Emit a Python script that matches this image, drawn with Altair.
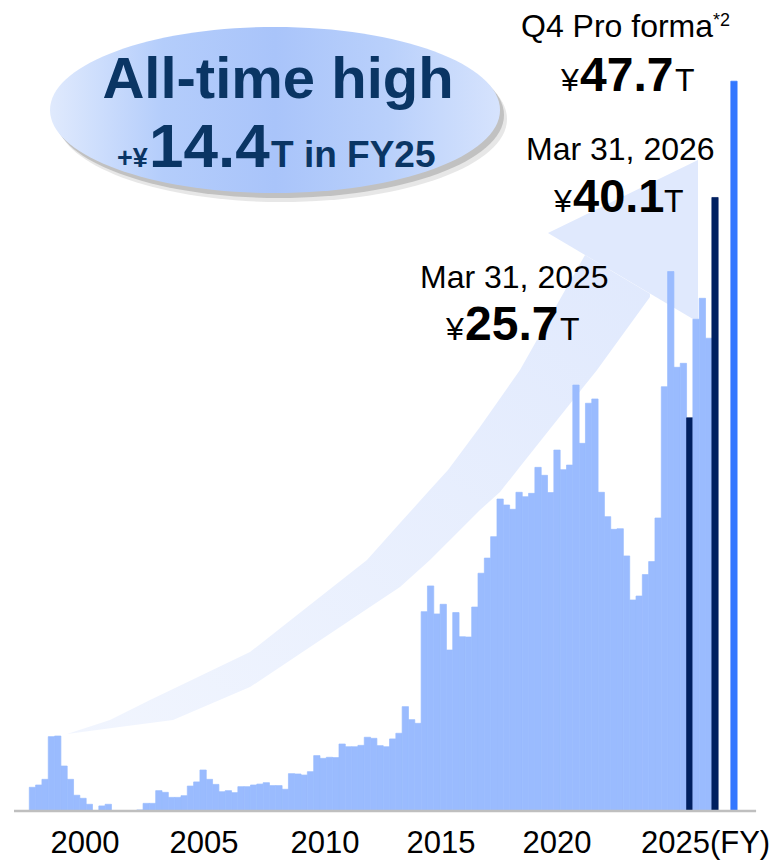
import altair as alt
import pandas as pd

# ---------------- data ----------------
# quarterly values (¥ trillion), FY1998 Q4 (index 0) ... FY2025 Q4 (index 108)
quarter_values = [
    1.55, 1.70, 2.07, 4.86, 4.90, 2.94, 2.07, 1.03, 0.83, 0.44,
    0.03, 0.33, 0.44, 0.02, 0.02, 0.02, 0.03, 0.07, 0.50, 0.50,
    1.33, 1.22, 0.89, 0.89, 1.00, 1.63, 1.90, 2.68, 2.07, 1.74,
    1.26, 1.33, 1.20, 1.59, 1.59, 1.70, 1.76, 1.85, 1.66, 1.66,
    1.42, 2.44, 2.42, 2.35, 2.57, 3.62, 3.44, 3.51, 3.49, 4.38,
    4.20, 4.20, 4.29, 4.82, 4.75, 4.27, 4.20, 4.71, 5.08, 6.82,
    5.97, 5.73, 13.03, 14.71, 12.88, 13.51, 10.52, 12.97, 11.39, 11.37,
    13.33, 15.54, 16.53, 17.93, 20.39, 20.00, 19.72, 20.83, 20.54, 20.76,
    22.46, 21.94, 20.81, 23.59, 22.31, 22.61, 27.84, 24.03, 26.65, 26.93,
    20.83, 19.24, 18.41, 18.45, 16.67, 13.79, 14.05, 15.45, 16.30, 19.15,
    27.73, 35.26, 29.00, 29.26, 25.70, 32.14, 33.51, 30.90, 40.10,
]
fiscal_year_end_index = [104, 108]          # Mar 31, 2025 and Mar 31, 2026
pro_forma_index = [111]
pro_forma_value = [47.7]

axis_labels = ["2000", "2005", "2010", "2015", "2020", "2025(FY)"]
axis_label_pos = [8.81, 27.64, 46.79, 65.14, 83.50, 96.78]   # quarter index
axis_label_align = ["center", "center", "center", "center", "center", "left"]

# decorative growth arrow, in chart units (quarter index, ¥T)
arrow_x = [5.97, 12.77, 19.10, 22.74, 34.92, 42.83, 53.43, 58.66, 63.40, 66.25,
           71.31, 74.48, 77.64, 82.07, 87.93, 89.83, 93.47, 98.21]
arrow_top = [5.03, 5.95, 7.25, 7.97, 10.39, 12.96, 16.41, 18.82, 20.99, 22.29,
             25.10, 26.96, 28.82, 32.06, 36.34, 35.86, 34.97, 33.80]
arrow_bottom = [5.03, 5.41, 5.75, 5.95, 8.10, 10.28, 13.20, 14.64, 16.41, 17.58,
                19.67, 20.85, 22.50, 24.80, 27.84, 28.82, 30.90, 33.59]
head_x = [82.07, 105.81]
head_top = [37.78, 42.55]
head_bottom = [37.78, 31.96]

# ---------------- tables ----------------
kinds = []
for i in range(len(quarter_values)):
    kinds.append("fyend" if i in fiscal_year_end_index else "quarter")
bars = pd.DataFrame({
    "q": list(range(len(quarter_values))) + pro_forma_index,
    "value": quarter_values + pro_forma_value,
    "kind": kinds + ["proforma"] * len(pro_forma_index),
})
bars["q2"] = bars["q"] + 1
bars["base"] = 0.0

shaft = pd.DataFrame({"x": arrow_x, "top": arrow_top, "bottom": arrow_bottom})
head = pd.DataFrame({"x": head_x, "top": head_top, "bottom": head_bottom})
labels = pd.DataFrame({"label": axis_labels, "pos": axis_label_pos,
                       "align": axis_label_align, "y": [-2.75] * len(axis_labels)})
baseline = pd.DataFrame({"x": [-2.42], "x2": [115.0], "y": [0.0]})

W, H = 771, 861
xs = alt.Scale(domain=[-4.636, 117.36], nice=False, zero=False)
ys = alt.Scale(domain=[-3.268, 53.007], nice=False, zero=False)

FONT = "Liberation Sans"
NAVY = "#0a3564"

arrow_grad = alt.Gradient(
    gradient="linear",
    stops=[alt.GradientStop(color="#f1f5fe", offset=0),
           alt.GradientStop(color="#e0e9fd", offset=1)],
    x1=0, x2=1, y1=1, y2=0)

shaft_layer = alt.Chart(shaft).mark_area(orient="vertical", color=arrow_grad).encode(
    x=alt.X("x:Q", scale=xs, axis=None),
    y=alt.Y("top:Q", scale=ys, axis=None),
    y2="bottom:Q")
head_layer = alt.Chart(head).mark_area(orient="vertical", color="#e0e9fd").encode(
    x=alt.X("x:Q", scale=xs, axis=None),
    y=alt.Y("top:Q", scale=ys, axis=None),
    y2="bottom:Q")

kind_scale = alt.Scale(domain=["quarter", "fyend", "proforma"],
                       range=["#9abbfe", "#002060", "#3377ff"])
bar_layer = alt.Chart(bars).mark_rect(strokeWidth=0.7).encode(
    x=alt.X("q:Q", scale=xs, axis=None),
    x2="q2:Q",
    y=alt.Y("value:Q", scale=ys, axis=None),
    y2="base:Q",
    color=alt.Color("kind:N", legend=None, scale=kind_scale),
    stroke=alt.Stroke("kind:N", legend=None, scale=kind_scale))

rule_layer = alt.Chart(baseline).mark_rule(color="#bfbfbf", strokeWidth=2.5).encode(
    x=alt.X("x:Q", scale=xs, axis=None), x2="x2:Q",
    y=alt.Y("y:Q", scale=ys, axis=None))

label_layers = []
for al in ["center", "left"]:
    label_layers.append(
        alt.Chart(labels).transform_filter(alt.datum.align == al).mark_text(
            font=FONT, fontSize=31, color="#000000", align=al, baseline="alphabetic"
        ).encode(x=alt.X("pos:Q", scale=xs, axis=None),
                 y=alt.Y("y:Q", scale=ys, axis=None),
                 text="label:N"))

# ellipse callout
k = 0.369
c = 0.5523
ellipse_path = (f"M -1 0 C -1 {-c*k:.4f} {-c:.4f} {-k} 0 {-k} "
                f"C {c:.4f} {-k} 1 {-c*k:.4f} 1 0 "
                f"C 1 {c*k:.4f} {c:.4f} {k} 0 {k} "
                f"C {-c:.4f} {k} -1 {c*k:.4f} -1 0 Z")
one = pd.DataFrame({"d": [0]})
ell_size = (2 * 225) ** 2

def ell(px, py, fill, opacity=1.0):
    return alt.Chart(one).mark_point(shape=ellipse_path, size=ell_size, filled=True,
                                     fill=fill, strokeWidth=0, opacity=opacity).encode(
        x=alt.value(px), y=alt.value(py))

ell_grad = alt.Gradient(
    gradient="linear",
    stops=[alt.GradientStop(color="#e0eafd", offset=0),
           alt.GradientStop(color="#b4cdfb", offset=0.25),
           alt.GradientStop(color="#a9c4fa", offset=0.5),
           alt.GradientStop(color="#b9d0fb", offset=0.75),
           alt.GradientStop(color="#d6e3fd", offset=1)],
    x1=0, x2=1, y1=0, y2=0)

ellipse_layers = [
    ell(282, 119, "#a0a0a0", 0.25),
    ell(279, 115, "#8a8a8a", 0.4),
    ell(275, 110, ell_grad),
]

def txt(t, px, py, size, weight="normal", align="left", color="#000000"):
    return alt.Chart(pd.DataFrame({"t": [t]})).mark_text(
        font=FONT, fontSize=size, fontWeight=weight, align=align,
        baseline="alphabetic", color=color).encode(
        x=alt.value(px), y=alt.value(py), text="t:N")

texts = [
    txt("All-time high", 278, 98, 58, "bold", "center", NAVY),
    txt("+¥", 117, 167, 27, "bold", "left", NAVY),
    txt("14.4", 149, 167, 62, "bold", "left", NAVY),
    txt("T in FY25", 271, 167, 37, "bold", "left", NAVY),
    txt("Q4 Pro forma", 521, 37, 32),
    txt("*2", 713, 26, 18),
    txt("¥", 561, 91, 32),
    txt("47.7", 580, 91, 48, "bold"),
    txt("T", 675, 91, 32),
    txt("Mar 31, 2026", 526, 160, 32),
    txt("¥", 554, 212, 32),
    txt("40.1", 573, 212, 47, "bold"),
    txt("T", 664, 212, 32),
    txt("Mar 31, 2025", 420, 288, 32),
    txt("¥", 446, 340, 32),
    txt("25.7", 465, 340, 48, "bold"),
    txt("T", 560, 340, 32),
]

chart = alt.layer(
    shaft_layer, head_layer, bar_layer, rule_layer, *label_layers,
    *ellipse_layers, *texts
).properties(
    width=W, height=H, padding=0,
    autosize=alt.AutoSizeParams(type="none"),
    background="white",
).configure_view(stroke=None)

chart.save("out.html", embed_options={"renderer": "svg", "actions": False})
